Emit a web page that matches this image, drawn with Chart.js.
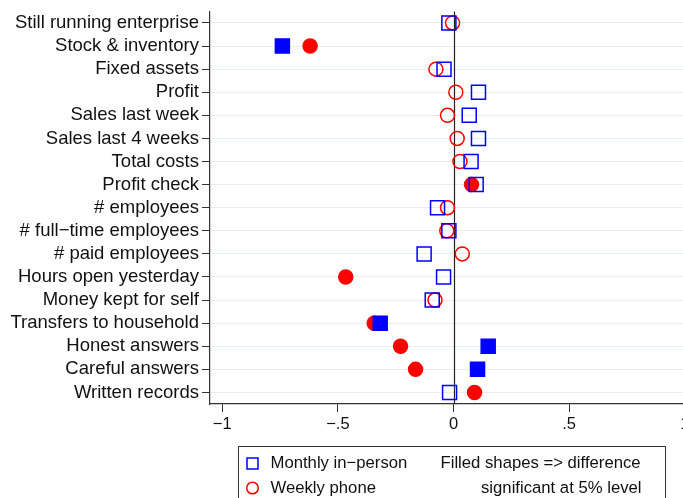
<!DOCTYPE html>
<html>
<head>
<meta charset="utf-8">
<script src="https://cdn.jsdelivr.net/npm/chart.js@4.4.1/dist/chart.umd.min.js"></script>
<style>
  html, body { margin: 0; padding: 0; background: #fff; overflow: hidden; }
  #wrap { width: 720px; height: 498px; }
</style>
</head>
<body>
<div id="wrap"><canvas id="chart" width="720" height="498"></canvas></div>
<script>
const rowLabels = [
  'Still running enterprise', 'Stock & inventory', 'Fixed assets', 'Profit',
  'Sales last week', 'Sales last 4 weeks', 'Total costs', 'Profit check',
  '# employees', '# full\u2212time employees', '# paid employees',
  'Hours open yesterday', 'Money kept for self', 'Transfers to household',
  'Honest answers', 'Careful answers', 'Written records'
]

// point estimates per row
const inPerson = [-0.02, -0.74, -0.041, 0.108, 0.068, 0.108, 0.076, 0.098,
  -0.069, -0.02, -0.127, -0.043, -0.092, -0.317, 0.150, 0.104, -0.017]
const phone = [-0.004, -0.62, -0.076, 0.010, -0.026, 0.016, 0.028, 0.078,
  -0.026, -0.029, 0.038, -0.466, -0.080, -0.343, -0.229, -0.164, 0.091]

// 1 = difference significant at 5% (drawn filled)
const inPersonSig = [0, 1, 0, 0, 0, 0, 0, 0, 0, 0, 0, 0, 0, 1, 1, 1, 0]
const phoneSig = [0, 1, 0, 0, 0, 0, 0, 1, 0, 0, 0, 1, 0, 1, 1, 1, 1]

const xTicks = [-1, -0.5, 0, 0.5, 1]

const BLUE = '#0000ff'
const RED = '#ff0000'
const FONT = '"Liberation Sans", Arial, Helvetica, sans-serif'

Chart.defaults.font.family = FONT
Chart.defaults.color = '#111'

function toPoints(vals) {
  return vals.map((v, i) => ({ x: v, y: i + 1 }))
}

function fmtTick(v) {
  if (v === 0) return '0'
  const s = String(Math.abs(v)).replace(/^0/, '')
  return (v < 0 ? '\u2212' : '') + s
}

// vertical reference line at zero
const zeroLine = {
  id: 'zeroLine',
  beforeDatasetsDraw(chart) {
    const { ctx, chartArea, scales } = chart
    const x = Math.round(scales.x.getPixelForValue(0)) + 0.5
    ctx.save()
    ctx.strokeStyle = '#222'
    ctx.lineWidth = 1.2
    ctx.beginPath()
    ctx.moveTo(x, chartArea.top)
    ctx.lineTo(x, chartArea.bottom)
    ctx.stroke()
    ctx.restore()
  }
}

// boxed legend with the note about filled shapes
const noteLegend = {
  id: 'noteLegend',
  afterDraw(chart) {
    const ctx = chart.ctx
    ctx.save()
    ctx.strokeStyle = '#333'
    ctx.lineWidth = 1
    ctx.strokeRect(238.5, 446.5, 427, 70)

    ctx.lineWidth = 1.5
    ctx.strokeStyle = BLUE
    ctx.strokeRect(247, 458, 11, 11)
    ctx.strokeStyle = RED
    ctx.beginPath()
    ctx.arc(252.5, 488, 5.8, 0, Math.PI * 2)
    ctx.stroke()

    ctx.fillStyle = '#111'
    ctx.font = '16.7px ' + FONT
    ctx.textBaseline = 'middle'
    ctx.textAlign = 'left'
    ctx.fillText(chart.data.datasets[0].label, 270.5, 463.5)
    ctx.fillText(chart.data.datasets[1].label, 270.5, 488)
    ctx.fillText('Filled shapes => difference', 440.5, 463.5)
    ctx.textAlign = 'right'
    ctx.fillText('significant at 5% level', 641.5, 488)
    ctx.restore()
  }
}

new Chart(document.getElementById('chart'), {
  type: 'scatter',
  data: {
    datasets: [{
      label: 'Monthly in\u2212person',
      data: toPoints(inPerson),
      pointStyle: 'rect',
      pointRadius: 9.9,
      borderWidth: 1.5,
      pointBorderColor: BLUE,
      pointBackgroundColor: inPersonSig.map(s => s ? BLUE : 'rgba(0,0,0,0)')
    }, {
      label: 'Weekly phone',
      data: toPoints(phone),
      pointStyle: 'circle',
      pointRadius: 7,
      borderWidth: 1.5,
      pointBorderColor: RED,
      pointBackgroundColor: phoneSig.map(s => s ? RED : 'rgba(0,0,0,0)')
    }]
  },
  options: {
    responsive: false,
    animation: false,
    events: [],
    layout: { padding: { top: 11, right: 23, bottom: 52, left: 0 } },
    plugins: {
      legend: { display: false },
      tooltip: { enabled: false }
    },
    scales: {
      x: {
        type: 'linear',
        min: -1.053,
        max: 1.053,
        afterBuildTicks: axis => { axis.ticks = xTicks.map(v => ({ value: v })) },
        afterFit: axis => { axis.height = 42 },
        ticks: {
          callback: v => fmtTick(v),
          font: { size: 16.5 },
          padding: 3,
          maxRotation: 0
        },
        grid: { drawOnChartArea: false, tickLength: 8, tickColor: '#333', tickWidth: 1 },
        border: { color: '#333', width: 1.2 }
      },
      y: {
        type: 'linear',
        reverse: true,
        min: 0.5,
        max: 17.5,
        afterBuildTicks: axis => { axis.ticks = rowLabels.map((_, i) => ({ value: i + 1 })) },
        afterFit: axis => {
          axis.width = 210
          // row labels sit half a row inside the axis, so no extra edge room is needed
          axis.paddingTop = 0
          axis.paddingBottom = 0
        },
        ticks: {
          autoSkip: false,
          callback: v => rowLabels[v - 1],
          font: { size: 18.5 },
          padding: 3
        },
        grid: { color: '#e4eeef', lineWidth: 1, tickLength: 8, tickColor: '#333', tickWidth: 1 },
        border: { color: '#333', width: 1.2 }
      }
    }
  },
  plugins: [zeroLine, noteLegend]
})
</script>
</body>
</html>
